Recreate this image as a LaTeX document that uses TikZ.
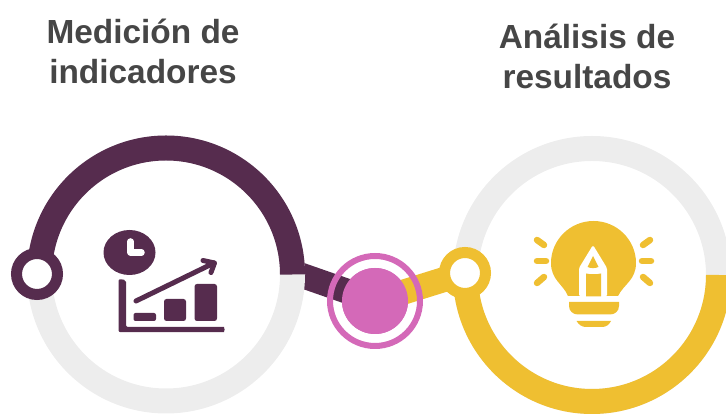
\documentclass[tikz,border=0pt]{standalone}
\usepackage{fontspec}
\setmainfont{Liberation Sans}
\definecolor{plum}{HTML}{562C4E}
\definecolor{gold}{HTML}{EFBF31}
\definecolor{orchid}{HTML}{D469B8}
\definecolor{palegrey}{HTML}{EDEDED}
\definecolor{titlegrey}{HTML}{464646}
\tikzset{
  bigring/.style={circle,draw=palegrey,line width=25pt,minimum size=253pt,inner sep=0pt,outer sep=0pt},
  band/.style={line width=25pt},
  knob/.style={circle,fill=white,line width=11pt,minimum size=41pt,inner sep=0pt},
  titletext/.style={text=titlegrey,font=\bfseries\fontsize{33.4}{40}\selectfont,align=center},
  iconline/.style={line cap=round,line join=round}
}
\begin{document}
\begin{tikzpicture}[x=1pt,y=1pt]
\useasboundingbox (0,0) rectangle (726,414);
\clip (0,0) rectangle (726,414);
% titles
\node[titletext] (t1) at (143,363) {Medición de\\indicadores};
\node[titletext] (t2) at (587,358) {Análisis de\\resultados};
% anchors
\node[circle,fill=orchid,minimum size=66pt,inner sep=0pt] (disk) at (375,113) {};
\coordinate (joinL) at (292,142);
\coordinate (knobRpos) at (465,141);
% connectors
\draw[band,plum] (joinL) -- (disk.center);
\draw[band,gold] (knobRpos) -- (disk.center);
% big rings
\node[bigring] (ringL) at (166,139.5) {};
\node[bigring] (ringR) at (592,139) {};
\draw[band,plum] (ringL.west) arc[start angle=180,end angle=0,radius=126.5pt];
\draw[band,gold] (ringR.west) arc[start angle=180,end angle=360,radius=126.5pt];
% knobs
\node[knob,draw=plum] (knobL) at (37,140) {};
\node[knob,draw=gold] (knobR) at (knobRpos) {};
% centre marker
\node[circle,draw=orchid,line width=6pt,minimum size=90pt,inner sep=0pt] (halo) at (disk) {};
\node[circle,fill=orchid,minimum size=66pt,inner sep=0pt] at (disk) {};
% chart icon
\begin{scope}[shift={(0,414)},y=-1pt]
  \fill[plum] (129.5,252.5) ellipse [x radius=26pt,y radius=22.5pt];
  \draw[white,line width=6.5pt,line join=round,line cap=round] (130.5,241.5) -- (130.5,252.5) -- (141.5,252.5);
  \fill[plum,rounded corners=2pt] (118.5,279) -- (126,280) -- (126,327) -- (222,327) arc[start angle=90,end angle=-90,radius=2.6pt] -- (118.5,332.2) -- cycle;
  \fill[plum,rounded corners=2pt] (133.5,321) -- (133.5,313) -- (156,313) -- (156,321) -- cycle;
  \fill[plum,rounded corners=2.5pt] (164,321) -- (164,299) -- (186,299) -- (186,321) -- cycle;
  \fill[plum,rounded corners=2.5pt] (194.5,321) -- (194.5,284) -- (217,284) -- (217,321) -- cycle;
  \draw[plum,line width=5pt,iconline] (136,301) -- (214,263);
  \draw[plum,line width=5pt,iconline] (203,260.5) -- (214.5,263) -- (211,272.5);
  % bulb icon
  \fill[gold] (568,296) .. controls (563,284) and (551,280) .. (551,263)
     .. controls (551,240) and (570,221) .. (593.5,221)
     .. controls (617,221) and (636,240) .. (636,263)
     .. controls (636,280) and (624,284) .. (618,296) -- cycle;
  \fill[white,rounded corners=1.5pt] (579,296.5) -- (579,268) -- (593,245) -- (607,268) -- (607,296.5) -- cycle;
  \fill[gold] (593,256) -- (598.5,267) .. controls (595,268.5) and (591,268.5) .. (587.5,267) -- cycle;
  \fill[gold] (586,273.5) .. controls (590,274.5) and (597,274.5) .. (601,273.5) -- (601,296.5) -- (586,296.5) -- cycle;
  \fill[gold] (569,302) -- (619,302) -- (619,306) .. controls (619,311) and (615,314.5) .. (610,314.5) -- (578,314.5) .. controls (573,314.5) and (569,311) .. (569,306) -- cycle;
  \fill[gold] (576.5,321) -- (611,321) .. controls (609,325) and (606,327) .. (602,327) -- (586,327) .. controls (582,327) and (579,325) .. (576.5,321) -- cycle;
  \foreach \ax/\ay/\bx/\by in {537/240/544/245, 537/261/546/261, 537/283/544/277, 643/245/650/240, 642/261/651/261, 643/277/650/283}
    \draw[gold,line width=6.5pt,line cap=round] (\ax,\ay) -- (\bx,\by);
\end{scope}
\end{tikzpicture}
\end{document}
